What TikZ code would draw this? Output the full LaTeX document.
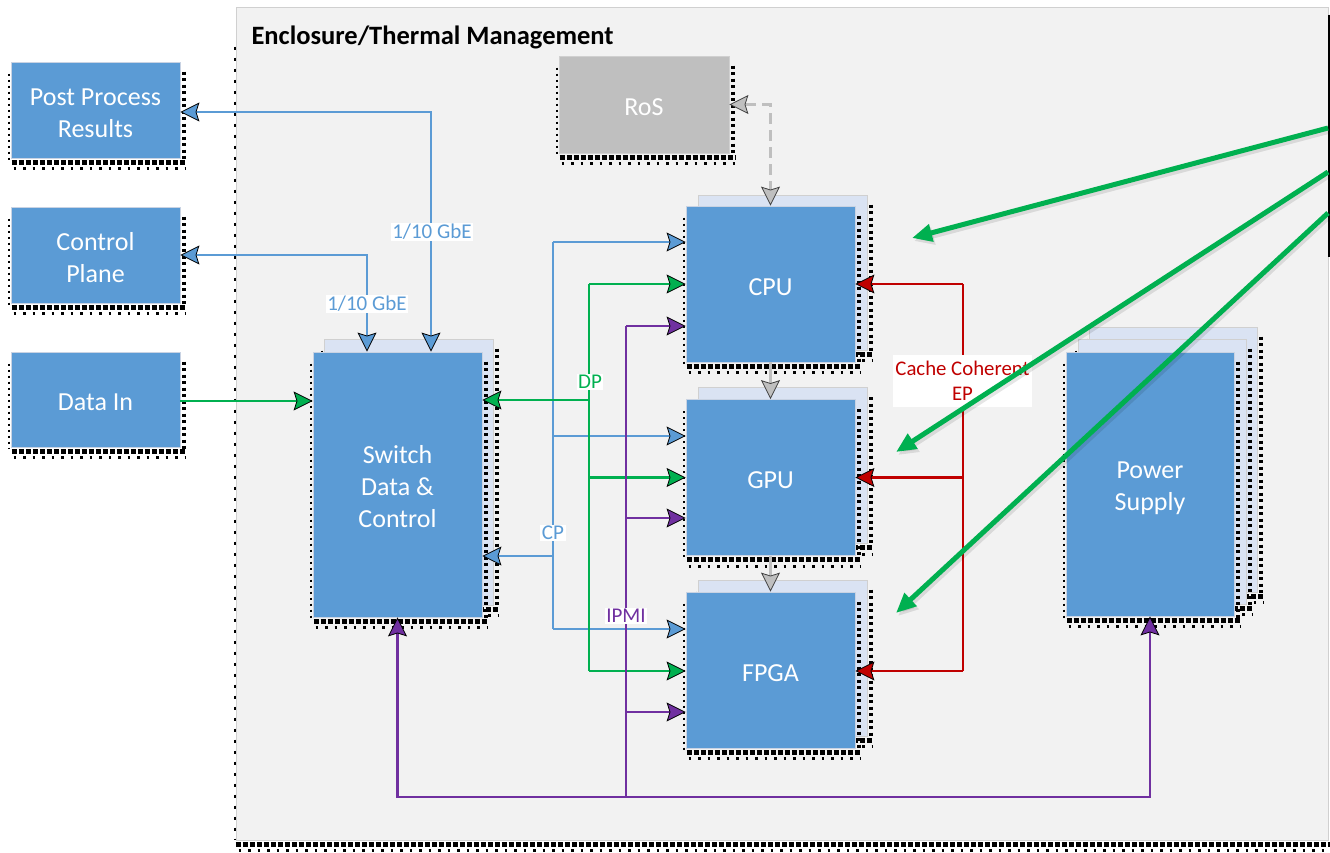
\documentclass[tikz,border=0pt]{standalone}
\usepackage{fontspec}
\setmainfont{Carlito}
\usetikzlibrary{arrows.meta,calc}
\definecolor{cblue}{HTML}{5B9BD5}
\definecolor{cback}{HTML}{DAE3F3}
\definecolor{cgreen}{HTML}{00B050}
\definecolor{cpurple}{HTML}{7030A0}
\definecolor{cred}{HTML}{C00000}
\definecolor{cgray}{HTML}{BFBFBF}
\definecolor{cencl}{HTML}{F2F2F2}
\definecolor{cedge}{HTML}{C9D3E3}
\definecolor{cencledge}{HTML}{D0D0D0}
\newcommand\bxshadow[1]{%
  \draw[shR] ([xshift=3.5pt,yshift=-10pt]#1.north east) -- ([xshift=3.5pt,yshift=-2pt]#1.south east);
  \draw[shB] ([xshift=1pt,yshift=-4pt]#1.south west) -- ([xshift=6pt,yshift=-4pt]#1.south east);
  \draw[shB2] ([xshift=3pt,yshift=-10.5pt]#1.south west) -- ([xshift=6pt,yshift=-10.5pt]#1.south east);
  \draw[shL] ([xshift=-1.5pt,yshift=-12pt]#1.north west) -- ([xshift=-1.5pt,yshift=-2pt]#1.south west);}
\tikzset{
  shR/.style={line width=4pt, dash pattern=on 3pt off 3.5pt, black},
  shB/.style={line width=5pt, dash pattern=on 5pt off 2pt, black},
  shB2/.style={line width=3pt, dash pattern=on 2.5pt off 7pt, black},
  shL/.style={line width=1.6pt, dash pattern=on 2pt off 4pt, black},
  boxtext/.style={font=\fontsize{26}{32}\selectfont, text=white, align=center},
  onetext/.style={execute at begin node={\rule{0pt}{23pt}}},
  frontbox/.style={draw=cedge, line width=0.8pt, fill=cblue, inner sep=0pt, boxtext},
  backbox/.style={draw=cencledge, line width=0.8pt, fill=cback, inner sep=0pt},
  lbl/.style={fill=white, inner sep=1.5pt, font=\fontsize{21}{24}\selectfont, align=center},
  con/.style={line width=2.6pt},
  cb/.style={con, draw=cblue},
  cg/.style={con, draw=cgreen},
  cp/.style={con, draw=cpurple},
  cr/.style={con, draw=cred},
  cgy/.style={line width=3.2pt, draw=cgray},
  endB/.style={-{Stealth[length=19pt,width=19pt,inset=3pt,line width=0.8pt,color=black,fill=cblue]}},
  bothB/.style={{Stealth[length=19pt,width=19pt,inset=3pt,line width=0.8pt,color=black,fill=cblue]}-{Stealth[length=19pt,width=19pt,inset=3pt,line width=0.8pt,color=black,fill=cblue]}},
  endG/.style={-{Stealth[length=19pt,width=19pt,inset=3pt,line width=0.8pt,color=black,fill=cgreen]}},
  endP/.style={-{Stealth[length=19pt,width=19pt,inset=3pt,line width=0.8pt,color=black,fill=cpurple]}},
  endR/.style={-{Stealth[length=19pt,width=19pt,inset=3pt,line width=0.8pt,color=black,fill=cred]}},
  endY/.style={-{Stealth[length=19pt,width=19pt,inset=3pt,line width=0.8pt,color=black!75,fill=cgray]}},
  bothY/.style={{Stealth[length=19pt,width=19pt,inset=3pt,line width=0.8pt,color=black!75,fill=cgray]}-{Stealth[length=19pt,width=19pt,inset=3pt,line width=0.8pt,color=black!75,fill=cgray]}},
  bigarrow/.style={line width=5pt, draw=cgreen, -{Triangle[length=20pt,width=17pt,fill=cgreen,color=cgreen]}},
  bigshadow/.style={line width=5pt, draw=black, opacity=0.1, -{Triangle[length=20pt,width=17pt]}},
}
\begin{document}
\begin{tikzpicture}[x=1pt,y=-1pt]
\useasboundingbox (0,0) rectangle (1330,852);
% enclosure
\node[draw=cencledge, line width=0.8pt, fill=cencl, minimum width=1092pt, minimum height=833pt, inner sep=0pt] (encl) at (782,423.5) {};
\draw[line width=2pt, dash pattern=on 3pt off 8pt] ([xshift=-1pt,yshift=-40pt]encl.north west) -- ([xshift=-1pt]encl.south west);
\draw[shB] ([yshift=-4pt]encl.south west) -- ([xshift=2pt,yshift=-4pt]encl.south east);
\draw[shB2] ([xshift=3pt,yshift=-10pt]encl.south west) -- ([xshift=2pt,yshift=-10pt]encl.south east);
\draw[line width=1.8pt] ([xshift=0.9pt,yshift=-8pt]encl.north east) -- ([xshift=0.9pt,yshift=-250pt]encl.north east);
\node[anchor=base west, font=\fontsize{26.5}{30}\selectfont\bfseries] (title) at (248,44) {Enclosure/Thermal Management};

% outside boxes
\node[frontbox, minimum width=169pt, minimum height=96pt, label={[boxtext, yshift=-3pt]center:{Post Process\\Results}}] (post) at (95.5,110) {};
\bxshadow{post}
\node[frontbox, minimum width=169pt, minimum height=96pt, label={[boxtext, yshift=-3pt]center:{Control\\Plane}}] (ctrl) at (95.5,255) {};
\bxshadow{ctrl}
\node[frontbox, onetext, minimum width=169pt, minimum height=95pt] (din) at (95.5,399.5) {Data In};
\bxshadow{din}

% RoS
\node[draw=cencledge, line width=0.8pt, fill=cgray, inner sep=0pt, boxtext, onetext, minimum width=170pt, minimum height=97pt] (ros) at (644,104.5) {RoS};
\bxshadow{ros}

% switch
\node[backbox, minimum width=169pt, minimum height=266pt] (swb) at (408.5,472) {};
\bxshadow{swb}
\node[frontbox, minimum width=169pt, minimum height=265pt, label={[boxtext, yshift=-2pt]center:{Switch\\Data \&\\Control}}] (sw) at (397.5,484.5) {};
\bxshadow{sw}

% CPU / GPU / FPGA
\node[backbox, minimum width=169pt, minimum height=155pt] (cpub) at (782.5,272.5) {};
\bxshadow{cpub}
\node[frontbox, onetext, minimum width=169pt, minimum height=156pt] (cpu) at (770.5,284) {CPU};
\bxshadow{cpu}
\node[backbox, minimum width=169pt, minimum height=156pt] (gpub) at (782.5,465.5) {};
\bxshadow{gpub}
\node[frontbox, onetext, minimum width=169pt, minimum height=156pt] (gpu) at (770.5,477.5) {GPU};
\bxshadow{gpu}
\node[backbox, minimum width=169pt, minimum height=156pt] (fpgab) at (782.5,658) {};
\bxshadow{fpgab}
\node[frontbox, onetext, minimum width=169pt, minimum height=156pt] (fpga) at (770.5,670) {FPGA};
\bxshadow{fpga}

% power supply
\node[backbox, minimum width=168pt, minimum height=265pt] (psb2) at (1173.5,459.5) {};
\bxshadow{psb2}
\node[backbox, minimum width=168pt, minimum height=265pt] (psb1) at (1162,471.5) {};
\bxshadow{psb1}
\node[frontbox, minimum width=168pt, minimum height=264pt, label={[boxtext, yshift=-4pt]center:{Power\\Supply}}] (ps) at (1150,484) {};
\bxshadow{ps}

% external links
\draw[cb, bothB] ([yshift=-2pt]post.east) -| ([xshift=33.5pt]sw.north);
\draw[cb, bothB] (ctrl.east) -| ([xshift=-30.5pt]sw.north);
\draw[cg, endG] ([yshift=-1.5pt]din.east) -- ([yshift=83.5pt]sw.west);

% CP bus
\coordinate (cpT) at (553,242);
\coordinate (cpB) at (553,629);
\draw[cb] (cpT) -- (cpB);
\draw[cb, endB] (cpT) -- ([yshift=42pt]cpu.west);
\draw[cb, endB] (cpT |- 0,436) -- ([yshift=41.5pt]gpu.west);
\draw[cb, endB] (cpB) -- ([yshift=41pt]fpga.west);
\draw[cb, endB] (cpT |- 0,556) -- ([yshift=-71.5pt]sw.east);

% DP bus
\coordinate (dpT) at (589,284);
\coordinate (dpB) at (589,671);
\draw[cg] (dpT) -- (dpB);
\draw[cg, endG] (dpT) -- (cpu.west);
\draw[cg, endG] (dpT |- gpu.west) -- (gpu.west);
\draw[cg, endG] (dpB) -- ([yshift=-1pt]fpga.west);
\draw[cg, endG] (dpT |- 0,400) -- ([yshift=84.5pt]sw.east);

% IPMI bus
\coordinate (ipT) at (626,326);
\coordinate (ipB) at (626,797);
\draw[cp] (ipT) -- (ipB);
\draw[cp, endP] (ipT) -- ([yshift=-42pt]cpu.west);
\draw[cp, endP] (ipT |- 0,518) -- ([yshift=-40.5pt]gpu.west);
\draw[cp, endP] (ipT |- 0,712) -- ([yshift=-42pt]fpga.west);
\draw[cp, endP] (ipB) -| (sw.south);
\draw[cp, endP] (ipB) -| (ps.south);

% cache coherent
\coordinate (ccT) at (963,284);
\coordinate (ccB) at (963,671);
\draw[cr] (ccT) -- (ccB);
\draw[cr, endR] (ccT) -- (cpu.east);
\draw[cr, endR] (ccT |- gpu.east) -- (gpu.east);
\draw[cr, endR] (ccB) -- ([yshift=-1pt]fpga.east);

% gray links
\draw[cgy, dash pattern=on 11pt off 6pt, bothY] (ros.east) -| (cpu.north);
\draw[cgy, endY] (cpu.south) -- (gpu.north);
\draw[cgy, endY] (gpu.south) -- (fpga.north);

% labels
\node[lbl, text=cblue] (l1) at (432,232) {1/10 GbE};
\node[lbl, text=cblue] (l2) at (367,304) {1/10 GbE};
\node[lbl, text=cgreen] (ldp) at (590,382) {DP};
\node[lbl, text=cblue] (lcp) at (553,533) {CP};
\node[lbl, text=cpurple] (lip) at (626,616) {IPMI};
\node[fill=white, inner sep=0pt, minimum width=139pt, minimum height=52pt, text=cred, font=\fontsize{20.8}{25}\selectfont, align=center] (lcc) at (962.5,381) {Cache Coherent\\EP};

% green pointers
\coordinate (g1s) at (1328,128);
\coordinate (g1e) at (912,238);
\coordinate (g2s) at (1328,172);
\coordinate (g2e) at (896,452);
\coordinate (g3s) at (1328,213);
\coordinate (g3e) at (896,613);
\draw[bigshadow] ([xshift=2pt,yshift=-3pt]g1s) -- ([xshift=2pt,yshift=-3pt]g1e);
\draw[bigshadow] ([xshift=2pt,yshift=-3pt]g2s) -- ([xshift=2pt,yshift=-3pt]g2e);
\draw[bigshadow] ([xshift=2pt,yshift=-3pt]g3s) -- ([xshift=2pt,yshift=-3pt]g3e);
\draw[bigarrow] (g1s) -- (g1e);
\draw[bigarrow] (g2s) -- (g2e);
\draw[bigarrow] (g3s) -- (g3e);
\end{tikzpicture}
\end{document}
